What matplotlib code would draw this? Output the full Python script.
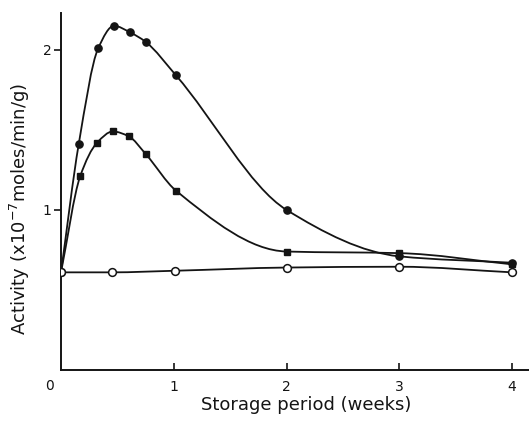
import numpy as np
import matplotlib
matplotlib.use('Agg')
import matplotlib.pyplot as plt
from matplotlib.path import Path
from matplotlib.patches import PathPatch

# Enzyme activity during storage (weeks), three treatments
weeks_a = [0.0, 0.157, 0.33, 0.47, 0.61, 0.75, 1.02, 2.0, 3.0, 4.0]
act_a = [0.61, 1.41, 2.01, 2.15, 2.11, 2.05, 1.84, 1.00, 0.71, 0.67]

weeks_b = [0.0, 0.17, 0.32, 0.46, 0.60, 0.75, 1.02, 2.0, 3.0, 4.0]
act_b = [0.61, 1.21, 1.42, 1.49, 1.46, 1.35, 1.12, 0.74, 0.73, 0.66]

weeks_c = [0.0, 0.45, 1.01, 2.0, 3.0, 4.0]
act_c = [0.61, 0.61, 0.62, 0.64, 0.645, 0.61]

x_ticks = [1, 2, 3, 4]
y_ticks = [1, 2]


def pchip_slopes(x, y):
    # Fritsch-Carlson tangents so the hand-drawn style curve doesn't overshoot
    x = np.asarray(x, float)
    y = np.asarray(y, float)
    h = np.diff(x)
    d = np.diff(y) / h
    m = np.zeros_like(y)
    for i in range(1, len(x) - 1):
        if d[i - 1] * d[i] <= 0:
            m[i] = 0.0
        else:
            w1 = 2 * h[i] + h[i - 1]
            w2 = h[i] + 2 * h[i - 1]
            m[i] = (w1 + w2) / (w1 / d[i - 1] + w2 / d[i])
    m[0] = d[0]
    m[-1] = d[-1]
    return m


def smooth_path(x, y):
    m = pchip_slopes(x, y)
    verts = [(x[0], y[0])]
    codes = [Path.MOVETO]
    for i in range(len(x) - 1):
        h = x[i + 1] - x[i]
        verts += [(x[i] + h / 3, y[i] + m[i] * h / 3),
                  (x[i + 1] - h / 3, y[i + 1] - m[i + 1] * h / 3),
                  (x[i + 1], y[i + 1])]
        codes += [Path.CURVE4] * 3
    return Path(verts, codes)


ink = '#141414'
plt.rcParams['font.family'] = 'DejaVu Sans'
fig = plt.figure(figsize=(5.29, 4.22), dpi=100)
ax = fig.add_axes([61 / 529, 52 / 422, 468 / 529, 357 / 422])

for xs, ys in [(weeks_a, act_a), (weeks_b, act_b), (weeks_c, act_c)]:
    ax.add_patch(PathPatch(smooth_path(xs, ys), fill=False, lw=1.3,
                           edgecolor=ink, zorder=2))

ax.plot(weeks_a, act_a, 'o', ms=5.2, color=ink, zorder=3)
ax.plot(weeks_b, act_b, 's', ms=4.4, color=ink, zorder=3)
ax.plot(weeks_c, act_c, 'o', ms=5.6, mfc='white', mec=ink, mew=1.1, zorder=4)

ax.set_xlim(0, 4.15)
ax.set_ylim(0, 2.23)
for s in ['top', 'right']:
    ax.spines[s].set_visible(False)
for s in ['left', 'bottom']:
    ax.spines[s].set_linewidth(1.4)
    ax.spines[s].set_color(ink)

ax.set_xticks(x_ticks)
ax.set_yticks(y_ticks)
ax.tick_params(axis='x', direction='in', length=5, width=1.2, pad=7,
               labelsize=10, colors=ink)
ax.tick_params(axis='y', direction='out', length=5, width=1.2, pad=2,
               labelsize=10, colors=ink)
ax.text(-0.1, -0.055, '0', ha='center', va='top', fontsize=10,
        color=ink, clip_on=False)

ax.set_xlabel('Storage period (weeks)', fontsize=13, color=ink)
ax.xaxis.set_label_coords(0.523, -0.072)
ax.set_ylabel(r'Activity (x10$^{-7}$moles/min/g)', fontsize=13, color=ink)
ax.yaxis.set_label_coords(-0.062, 0.45)

fig.savefig('out.png', dpi=100)
